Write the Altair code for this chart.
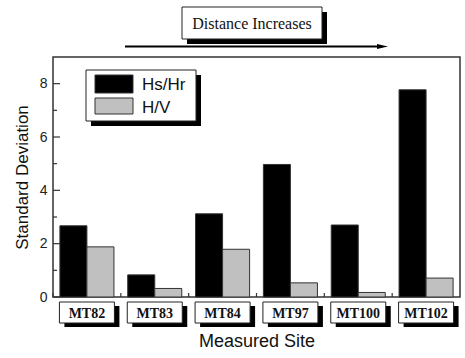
import altair as alt
import pandas as pd

sites = ["MT82", "MT83", "MT84", "MT97", "MT100", "MT102"]
series = ["Hs/Hr", "H/V"]
hs_hr = [2.67, 0.83, 3.12, 4.97, 2.70, 7.77]
h_v = [1.88, 0.32, 1.79, 0.53, 0.17, 0.71]
colors = ["#000000", "#c0c0c0"]
major_ticks = [0, 2, 4, 6, 8]
minor_ticks = [1, 3, 5, 7]

W, H = 407, 240

rows = []
for s, a, b in zip(sites, hs_hr, h_v):
    rows.append({"site": s, "series": series[0], "value": a})
    rows.append({"site": s, "series": series[1], "value": b})
df = pd.DataFrame(rows)
sites_df = pd.DataFrame({"site": sites})
maj_df = pd.DataFrame({"t": major_ticks})
min_df = pd.DataFrame({"t": minor_ticks})

xs = alt.Scale(domain=sites, paddingInner=0, paddingOuter=0)
ys = alt.Scale(domain=[0, 9], nice=False)

bars = alt.Chart(df).mark_bar(stroke="#333", strokeWidth=1).encode(
    x=alt.X("site:N", scale=xs, sort=sites,
            axis=alt.Axis(labels=False, ticks=False, domain=False,
                          title="Measured Site", titleFont="Arial",
                          titleFontSize=18, titleFontWeight="normal",
                          titleColor="#111", titlePadding=35)),
    xOffset=alt.XOffset("series:N", sort=series,
                        scale=alt.Scale(domain=series, paddingInner=0, paddingOuter=0.255)),
    y=alt.Y("value:Q", scale=ys,
            axis=alt.Axis(values=major_ticks, ticks=False, domain=False, grid=False,
                          labelFont="Arial", labelFontSize=14, labelColor="#222",
                          labelPadding=6, title="Standard Deviation",
                          titleFont="Arial", titleFontSize=17,
                          titleFontWeight="normal", titleColor="#111",
                          titlePadding=8)),
    color=alt.Color("series:N", sort=series,
                    scale=alt.Scale(domain=series, range=colors), legend=None),
)

ymaj = alt.Chart(maj_df).mark_rule(color="#333", strokeWidth=1.2).encode(
    y=alt.Y("t:Q", scale=ys), x=alt.value(0), x2=alt.value(7))
ymin = alt.Chart(min_df).mark_rule(color="#333", strokeWidth=1.2).encode(
    y=alt.Y("t:Q", scale=ys), x=alt.value(0), x2=alt.value(4))
xt = alt.Chart(sites_df).mark_rule(color="#333", strokeWidth=1.2).encode(
    x=alt.X("site:N", scale=xs, sort=sites, bandPosition=0),
    y=alt.value(H), y2=alt.value(H - 4))

lab_shadow = alt.Chart(sites_df).mark_bar(size=55, color="#000", xOffset=5, yOffset=4,
                                          y2Offset=4).encode(
    x=alt.X("site:N", scale=xs, sort=sites), y=alt.value(H + 5), y2=alt.value(H + 26))
lab_box = alt.Chart(sites_df).mark_bar(size=55, fill="white", stroke="#222", strokeWidth=1).encode(
    x=alt.X("site:N", scale=xs, sort=sites), y=alt.value(H + 5), y2=alt.value(H + 26))
lab_txt = alt.Chart(sites_df).mark_text(font="Times New Roman", fontSize=14, fontWeight="bold",
                                        color="#111", baseline="alphabetic").encode(
    x=alt.X("site:N", scale=xs, sort=sites), y=alt.value(H + 20.5), text="site:N")

one = pd.DataFrame({"a": [0]})

def box(x1, y1, x2, y2, shadow=5):
    sh = alt.Chart(one).mark_rect(color="#000").encode(
        x=alt.value(x1 + shadow), x2=alt.value(x2 + shadow),
        y=alt.value(y1 + shadow), y2=alt.value(y2 + shadow))
    bx = alt.Chart(one).mark_rect(fill="white", stroke="#222", strokeWidth=1).encode(
        x=alt.value(x1), x2=alt.value(x2), y=alt.value(y1), y2=alt.value(y2))
    return [sh, bx]

layers = [bars, ymaj, ymin, xt, lab_shadow, lab_box, lab_txt]

# title box
layers += box(129, -50, 269, -18)
layers.append(alt.Chart(one).mark_text(font="Times New Roman", fontSize=16, color="#111",
                                       baseline="alphabetic").encode(
    x=alt.value(199), y=alt.value(-28), text=alt.value("Distance Increases")))
# arrow
layers.append(alt.Chart(one).mark_rule(color="#000", strokeWidth=2).encode(
    x=alt.value(72), x2=alt.value(326), y=alt.value(-10.5)))
layers.append(alt.Chart(one).mark_point(shape="M-1,-0.45L1,0L-1,0.45Z", size=121,
                                        filled=True, color="#000", opacity=1).encode(
    x=alt.value(329.5), y=alt.value(-10.5)))

# legend
layers += box(33, 13, 143, 64)
sw_y = [(18, 36), (41, 57)]
tx_y = [33, 56]
for name, col, (a, b), ty in zip(series, colors, sw_y, tx_y):
    layers.append(alt.Chart(one).mark_rect(fill=col, stroke="#333", strokeWidth=1).encode(
        x=alt.value(42), x2=alt.value(80), y=alt.value(a), y2=alt.value(b)))
    layers.append(alt.Chart(one).mark_text(font="Arial", fontSize=17, align="left",
                                           baseline="alphabetic", color="#111").encode(
        x=alt.value(89), y=alt.value(ty), text=alt.value(name)))

chart = alt.layer(*layers).properties(
    width=W, height=H,
    autosize=alt.AutoSizeParams(type="none"),
    padding={"left": 53, "top": 57, "right": 5, "bottom": 61},
    background="white",
).configure_view(stroke="#333", strokeWidth=1.5)

chart.save("out.html", embed_options={"renderer": "svg", "actions": False})
